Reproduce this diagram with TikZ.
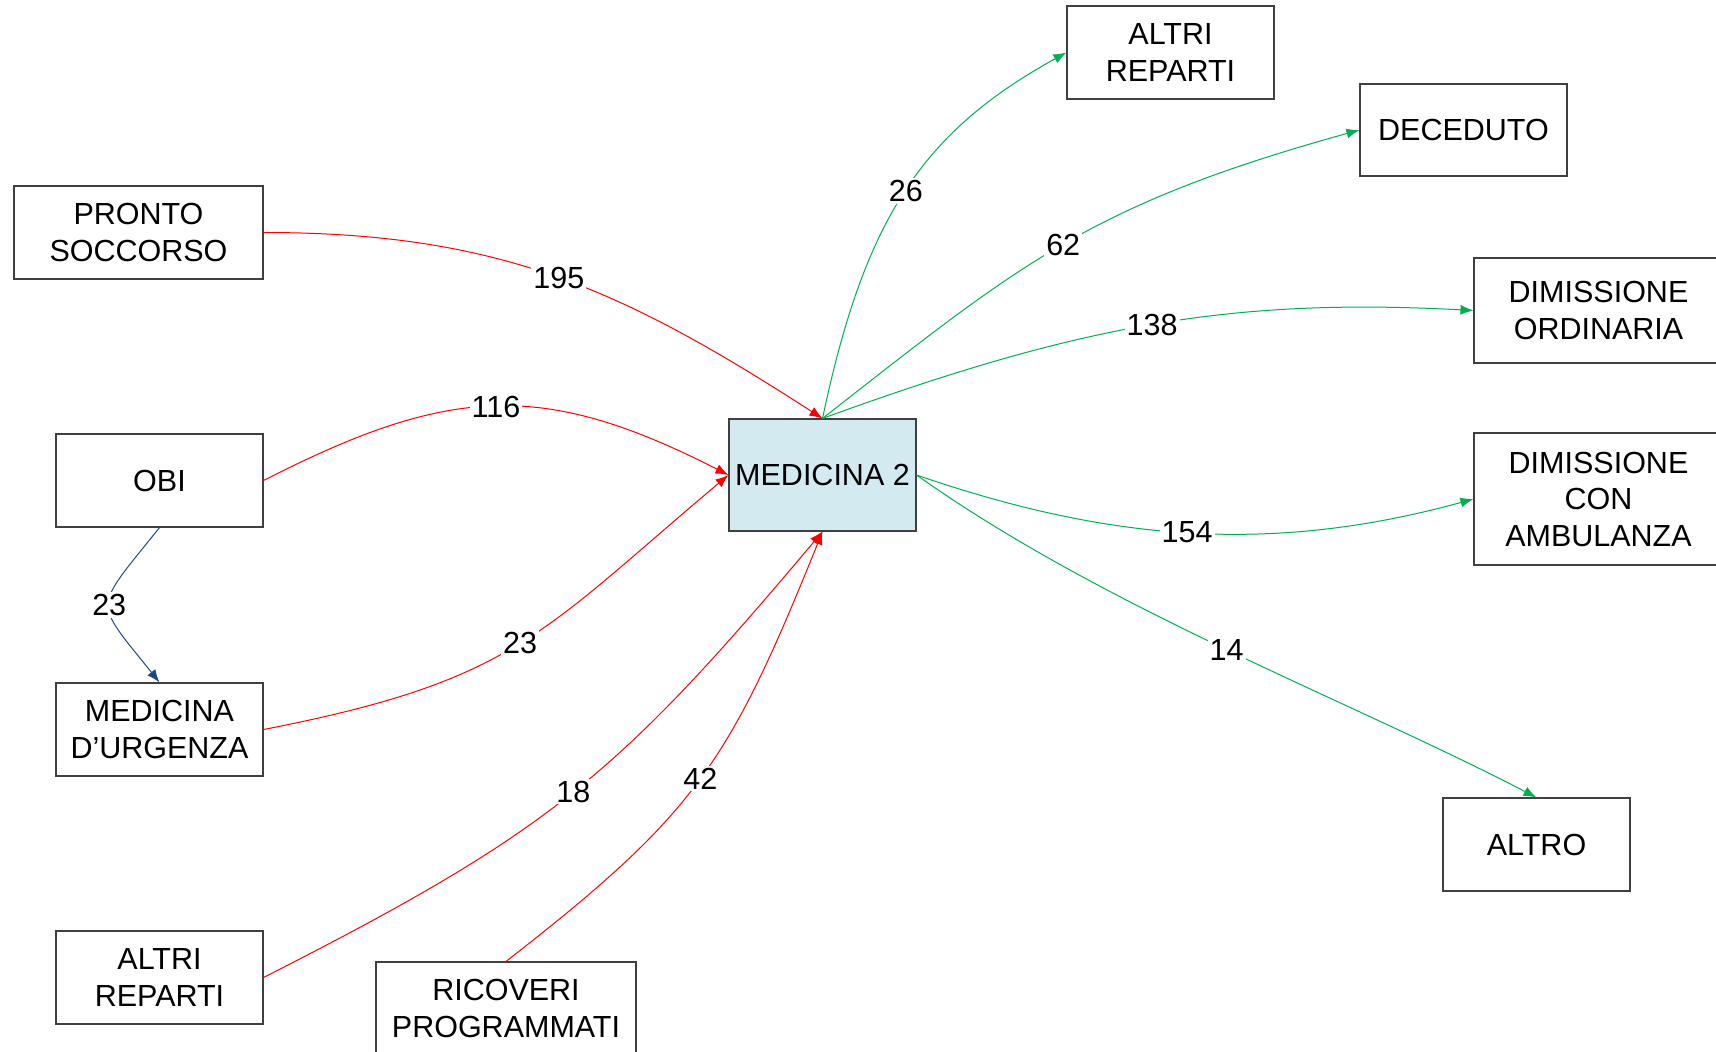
\documentclass[tikz,border=0pt]{standalone}
\usepackage{fontspec}
\setmainfont{Liberation Sans}
\usetikzlibrary{arrows.meta}

\begin{document}
\begin{tikzpicture}[x=1pt,y=-1pt]
	\tikzstyle{ward} = [draw=black!75, line width=1.1pt, shape=rectangle, align=center, inner sep=0pt, font=\fontsize{30.5}{36.5}\selectfont, minimum height=93pt]
	\tikzstyle{inedge} = [-{Latex[length=13pt,width=10pt]}, line width=1pt, color=flowred]
	\tikzstyle{outedge} = [-{Latex[length=13pt,width=10pt]}, line width=1pt, color=flowgreen]
	\tikzstyle{flowlbl} = [fill=white, text=black, inner sep=2pt, font=\fontsize{30.5}{36.5}\selectfont]

	\definecolor{flowred}{RGB}{255,0,0}
	\definecolor{flowgreen}{RGB}{0,176,80}
	\definecolor{flowblue}{RGB}{31,73,125}
	\definecolor{wardblue}{RGB}{210,234,240}

	\useasboundingbox (0,0) rectangle (1716,1052);

	% NODES %
	\node[ward, minimum width=249pt] (ps) at (138.5,232.5) {PRONTO\\SOCCORSO};
	\node[ward, minimum width=207pt] (obi) at (159.5,480.5) {OBI};
	\node[ward, minimum width=207pt] (mu) at (159.5,729.5) {MEDICINA\\D’URGENZA};
	\node[ward, minimum width=207pt] (arl) at (159.5,977.5) {ALTRI\\REPARTI};
	\node[ward, minimum width=260pt] (ric) at (506,1008.5) {RICOVERI\\PROGRAMMATI};

	\node[ward, minimum width=187pt, minimum height=112pt, fill=wardblue] (m2) at (822.5,475) {MEDICINA 2};

	\node[ward, minimum width=207pt] (art) at (1170.5,52.5) {ALTRI\\REPARTI};
	\node[ward, minimum width=207pt, minimum height=92pt] (dec) at (1463.5,130) {DECEDUTO};
	\node[ward, minimum width=249pt, minimum height=105pt] (dord) at (1598.5,310.5) {DIMISSIONE\\ORDINARIA};
	\node[ward, minimum width=249pt, minimum height=132pt] (dca) at (1598.5,499) {DIMISSIONE\\CON\\AMBULANZA};
	\node[ward, minimum width=187pt] (altro) at (1536.5,844.5) {ALTRO};

	% EDGES %
	%in
	\draw[inedge] (ps.east) .. controls +(239,0) and +(-197,-127) .. node[flowlbl] {195} (m2.north);
	\draw[inedge] (obi.east) .. controls +(186,-95) and +(-186,-95) .. node[flowlbl] {116} (m2.west);
	\draw[inedge] (mu.east) .. controls +(252,-49) and +(-188,158) .. node[flowlbl] {23} (m2.west);
	\draw[inedge] (arl.east) .. controls +(287,-146) and +(-206,245) .. node[flowlbl] {18} (m2.south);
	\draw[inedge] (ric.north) .. controls +(190,-148) and +(-94,233) .. node[flowlbl] {42} (m2.south);
	%obi
	\draw[inedge, color=flowblue] (obi.south) .. controls +(-67,84) and +(-67,-84) .. node[flowlbl] {23} (mu.north);
	%out
	\draw[outedge] (m2.north) .. controls +(42,-199) and +(-145,80) .. node[flowlbl] {26} (art.west);
	\draw[outedge] (m2.north) .. controls +(197,-154) and +(-271,75) .. node[flowlbl] {62} (dec.west);
	\draw[outedge] (m2.north) .. controls +(255,-93) and +(-244,-13) .. node[flowlbl] {138} (dord.west);
	\draw[outedge] (m2.east) .. controls +(186,64) and +(-207,57) .. node[flowlbl] {154} (dca.west);
	\draw[outedge] (m2.east) .. controls +(189,134) and +(-189,-98) .. node[flowlbl] {14} (altro.north);
\end{tikzpicture}
\end{document}
